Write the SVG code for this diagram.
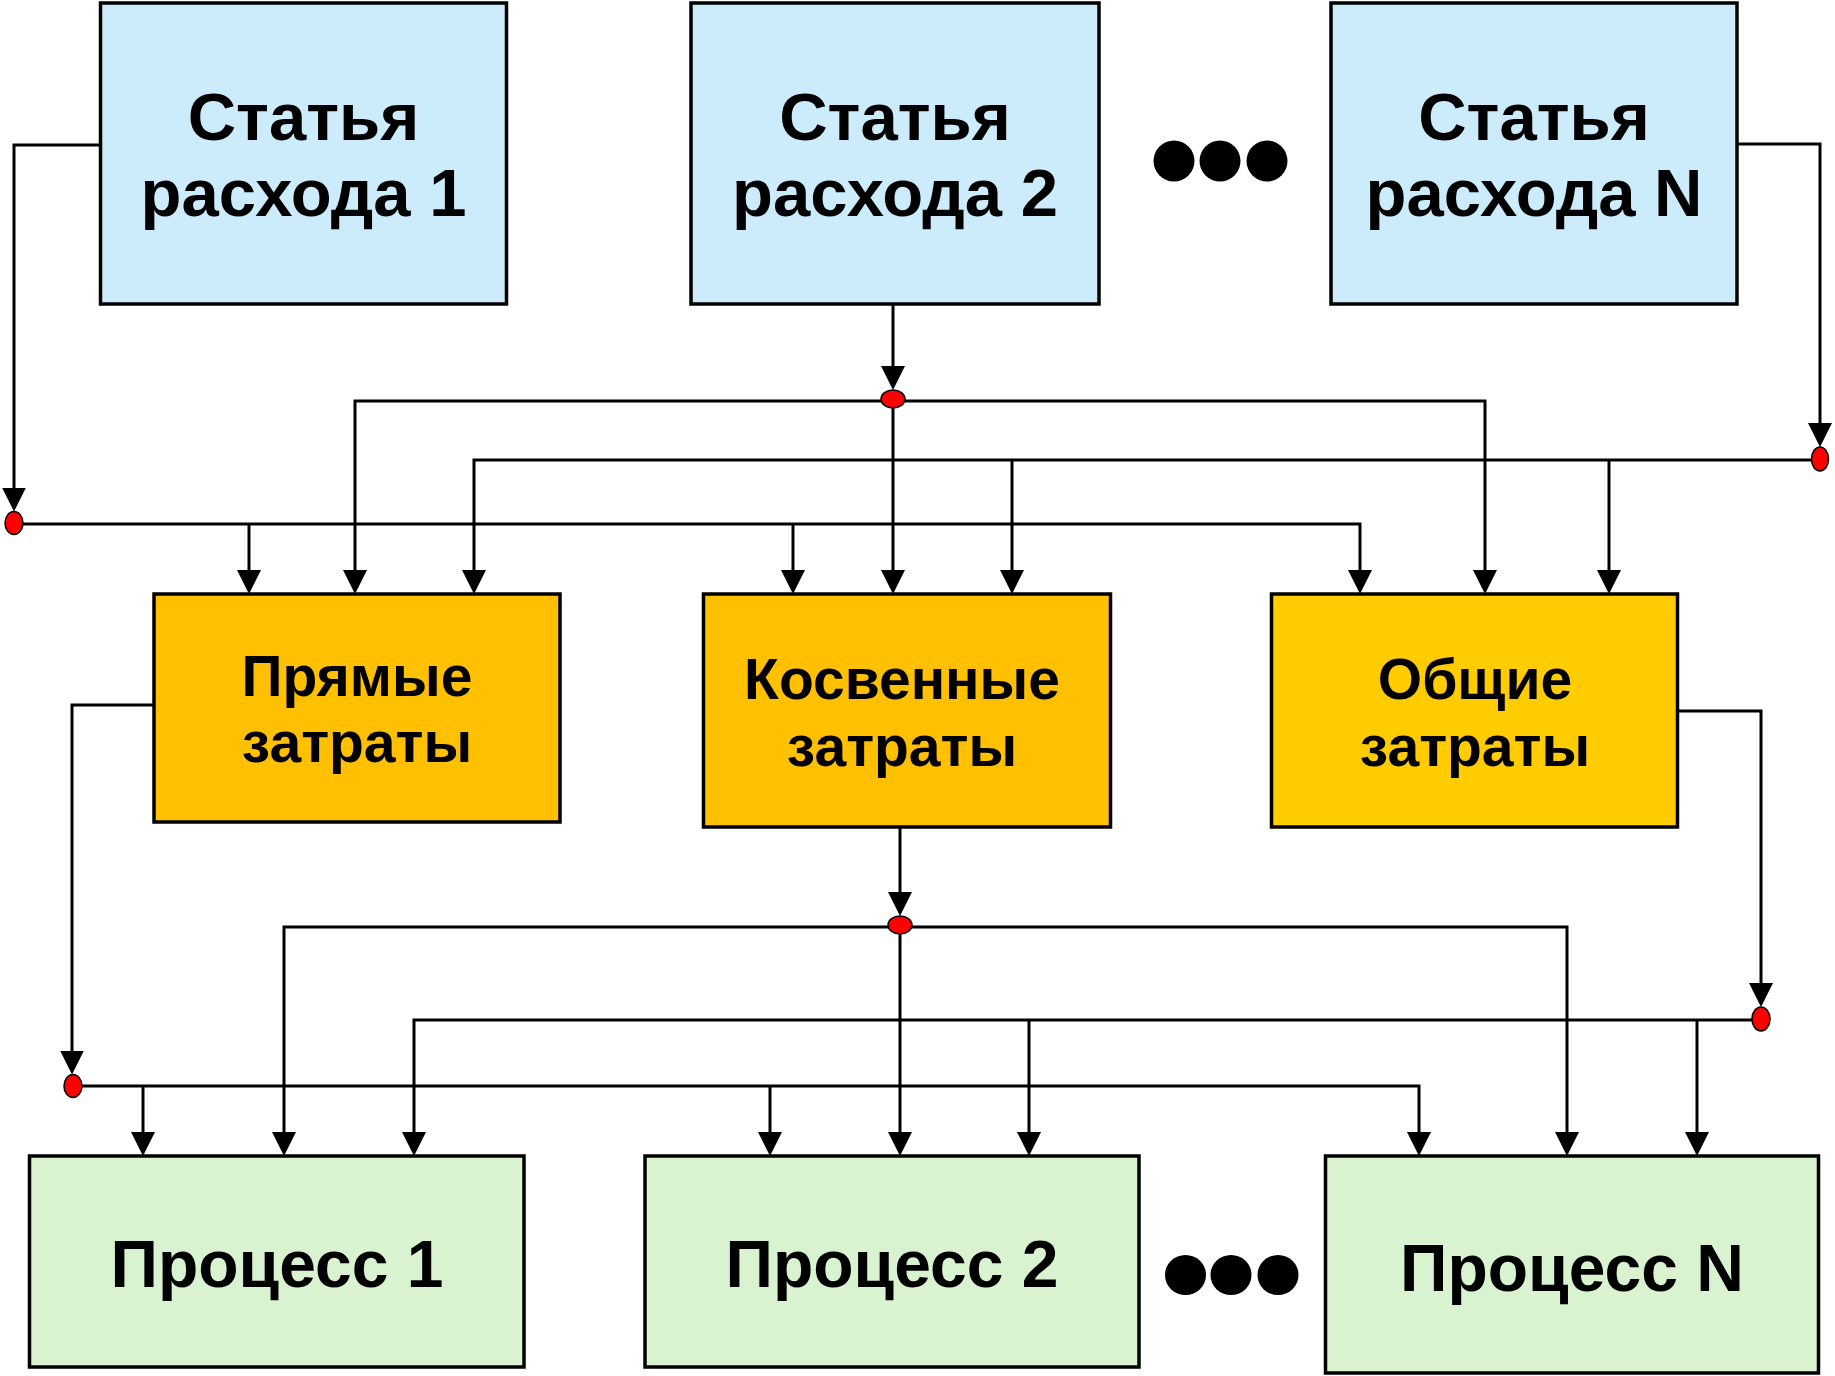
<svg xmlns="http://www.w3.org/2000/svg" width="1835" height="1376" viewBox="0 0 1835 1376">
<defs>
<style>
.box{stroke:#000;stroke-width:3.5}
.art{fill:#CCECFB}
.cost{fill:#FFC000}
.gen{fill:#FFCC00}
.proc{fill:#D9F2D0}
.t1{font-family:"Liberation Sans",Arial,sans-serif;font-weight:bold;font-size:67px;text-anchor:middle;fill:#000}
.t2{font-family:"Liberation Sans",Arial,sans-serif;font-weight:bold;font-size:57px;text-anchor:middle;fill:#000}
.t3{font-family:"Liberation Sans",Arial,sans-serif;font-weight:bold;font-size:66px;text-anchor:middle;fill:#000}
.ln{fill:none;stroke:#000;stroke-width:3}
.arr{marker-end:url(#ah)}
.jn{fill:#FF0000;stroke:#000;stroke-width:1.5}
.dot{fill:#000}
</style>
<marker id="ah" viewBox="0 0 24 24" refX="14" refY="12" markerWidth="24" markerHeight="24" markerUnits="userSpaceOnUse" orient="auto">
<path d="M0,0 L24,12 L0,24 Z" fill="#000"/>
</marker>
</defs>
<rect width="1835" height="1376" fill="#fff"/>

<g id="connectors">
<path class="ln arr" d="M100,145 H14 V501.5"/>
<path class="ln arr" d="M893,304 V380"/>
<path class="ln arr" d="M1737,144 H1820 V437"/>
<path class="ln arr" d="M14,524 H1360 V584"/>
<path class="ln arr" d="M249,524 V584"/>
<path class="ln arr" d="M793,524 V584"/>
<path class="ln arr" d="M893,401 H355 V584"/>
<path class="ln arr" d="M893,401 H1485 V584"/>
<path class="ln arr" d="M893,401 V584"/>
<path class="ln arr" d="M1820,460 H474 V584"/>
<path class="ln arr" d="M1012,460 V584"/>
<path class="ln arr" d="M1609,460 V584"/>
<path class="ln arr" d="M154,705 H72 V1064.5"/>
<path class="ln arr" d="M900,827 V906"/>
<path class="ln arr" d="M1678,711 H1761 V997"/>
<path class="ln arr" d="M73,1086 H1419 V1146"/>
<path class="ln arr" d="M143,1086 V1146"/>
<path class="ln arr" d="M770,1086 V1146"/>
<path class="ln arr" d="M900,927 H284 V1146"/>
<path class="ln arr" d="M900,927 H1567 V1146"/>
<path class="ln arr" d="M900,927 V1146"/>
<path class="ln arr" d="M1761,1020 H414 V1146"/>
<path class="ln arr" d="M1029,1020 V1146"/>
<path class="ln arr" d="M1697,1020 V1146"/>
<ellipse class="jn" cx="14" cy="523" rx="9" ry="11.5"/>
<ellipse class="jn" cx="893" cy="399" rx="12" ry="9"/>
<ellipse class="jn" cx="1820" cy="459" rx="8.5" ry="12"/>
<ellipse class="jn" cx="73" cy="1086" rx="9" ry="11.5"/>
<ellipse class="jn" cx="900" cy="925" rx="12" ry="9"/>
<ellipse class="jn" cx="1761" cy="1019" rx="9" ry="12"/>
</g>

<g id="article1">
<rect class="box art" x="100.5" y="3" width="406" height="301"/>
<text class="t1" x="303.5" y="140">Статья</text>
<text class="t1" x="303.5" y="216">расхода 1</text>
</g>
<g id="article2">
<rect class="box art" x="691" y="3" width="408" height="301"/>
<text class="t1" x="895" y="140">Статья</text>
<text class="t1" x="895" y="216">расхода 2</text>
</g>
<g id="ellipsis-top">
<ellipse class="dot" cx="1174" cy="161" rx="20.5" ry="20.5"/>
<ellipse class="dot" cx="1220" cy="161" rx="20.5" ry="20.5"/>
<ellipse class="dot" cx="1267" cy="161" rx="20.5" ry="20.5"/>
</g>
<g id="articleN">
<rect class="box art" x="1331" y="3" width="406" height="301"/>
<text class="t1" x="1534" y="140">Статья</text>
<text class="t1" x="1534" y="216">расхода N</text>
</g>

<g id="direct">
<rect class="box cost" x="154" y="594" width="406" height="228"/>
<text class="t2" x="357" y="696">Прямые</text>
<text class="t2" x="357" y="762">затраты</text>
</g>
<g id="indirect">
<rect class="box cost" x="703.5" y="594" width="407" height="233"/>
<text class="t2" x="902" y="698.5">Косвенные</text>
<text class="t2" x="902" y="765.5">затраты</text>
</g>
<g id="general">
<rect class="box gen" x="1271.5" y="594" width="406" height="233"/>
<text class="t2" x="1475" y="698.5">Общие</text>
<text class="t2" x="1475" y="765.5">затраты</text>
</g>

<g id="process1">
<rect class="box proc" x="29.5" y="1156" width="494.5" height="211"/>
<text class="t3" x="277" y="1287">Процесс 1</text>
</g>
<g id="process2">
<rect class="box proc" x="645" y="1156" width="494" height="211"/>
<text class="t3" x="892" y="1287">Процесс 2</text>
</g>
<g id="ellipsis-bottom">
<ellipse class="dot" cx="1185.5" cy="1275" rx="20.5" ry="20"/>
<ellipse class="dot" cx="1231" cy="1275" rx="20.5" ry="20"/>
<ellipse class="dot" cx="1278" cy="1275" rx="20.5" ry="20"/>
</g>
<g id="processN">
<rect class="box proc" x="1325.5" y="1156" width="493" height="217"/>
<text class="t3" x="1572" y="1291">Процесс N</text>
</g>
</svg>
